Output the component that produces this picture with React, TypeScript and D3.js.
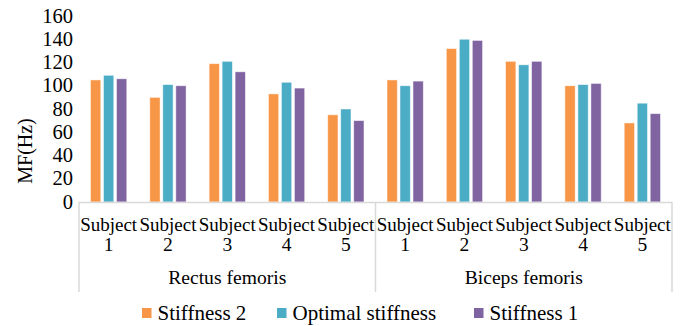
import React from "react";
import * as d3 from "d3";

const groups = ["Rectus femoris", "Biceps femoris"];
const subjects = ["1", "2", "3", "4", "5"];
const seriesNames = ["Stiffness 2", "Optimal stiffness", "Stiffness 1"];
const colors = ["#F79646", "#4BACC6", "#8064A2"];
const stiffness2 = [105, 90, 119, 93, 75, 105, 132, 121, 100, 68];
const optimal = [109, 101, 121, 103, 80, 100, 140, 118, 101, 85];
const stiffness1 = [106, 100, 112, 98, 70, 104, 139, 121, 102, 76];
const yTicks = [0, 20, 40, 60, 80, 100, 120, 140, 160];

const W = 684, H = 326;
const M = { left: 79, right: 12, top: 16, bottom: 124 };
const font = "Liberation Serif, Times New Roman, serif";

export default function App() {
  const series = [stiffness2, optimal, stiffness1];
  const cats = groups.flatMap((g) => subjects.map((s) => `${g}|${s}`));
  const x = d3.scaleBand<string>().domain(cats).range([M.left, W - M.right]);
  const inner = d3.scaleBand<number>().domain([0, 1, 2]).range([0, x.bandwidth()]).paddingInner(0.21).paddingOuter(0.885);
  const y = d3.scaleLinear().domain([0, 160]).range([H - M.bottom, M.top]);
  const base = y(0);
  const groupW = x.bandwidth() * subjects.length;
  return (
    <svg width={W} height={H} style={{ position: "absolute", left: 0, top: 0, background: "#fff", fontFamily: font }}>
      {yTicks.map((t) => (
        <text key={t} x={73} y={y(t)} dy="0.32em" textAnchor="end" fontSize={20.5} fill="#000">{t}</text>
      ))}
      <text transform={`translate(25,151) rotate(-90)`} textAnchor="middle" fontSize={20} dy="0.35em">MF(Hz)</text>
      {series.map((vals, si) =>
        vals.map((v, ci) => (
          <rect key={`${si}-${ci}`} x={(x(cats[ci]) as number) + (inner(si) as number)} y={y(v)} width={inner.bandwidth()} height={base - y(v)} fill={colors[si]} stroke="#ffffff" strokeOpacity={0.6} strokeWidth={0.8} />
        ))
      )}
      <line x1={M.left} x2={W - M.right} y1={base + 0.5} y2={base + 0.5} stroke="#d9d9d9" strokeWidth={1.5} />
      {[0, 1, 2].map((i) => (
        <line key={i} x1={M.left + i * groupW} x2={M.left + i * groupW} y1={base} y2={292} stroke="#d9d9d9" strokeWidth={1.5} />
      ))}
      {cats.map((c, ci) => {
        const cx = (x(c) as number) + x.bandwidth() / 2;
        return (
          <g key={c}>
            <text x={cx} y={231} textAnchor="middle" fontSize={19}>Subject</text>
            <text x={cx} y={251} textAnchor="middle" fontSize={19.5}>{subjects[ci % 5]}</text>
          </g>
        );
      })}
      {groups.map((g, gi) => (
        <text key={g} x={M.left + groupW * (gi + 0.5)} y={284} textAnchor="middle" fontSize={19.6}>{g}</text>
      ))}
      {(() => {
        const legX = [142, 277, 474];
        return seriesNames.map((n, i) => (
          <g key={n}>
            <rect x={legX[i]} y={308} width={9.5} height={10} fill={colors[i]} />
            <text x={legX[i] + 15.5} y={320} fontSize={21}>{n}</text>
          </g>
        ));
      })()}
    </svg>
  );
}
